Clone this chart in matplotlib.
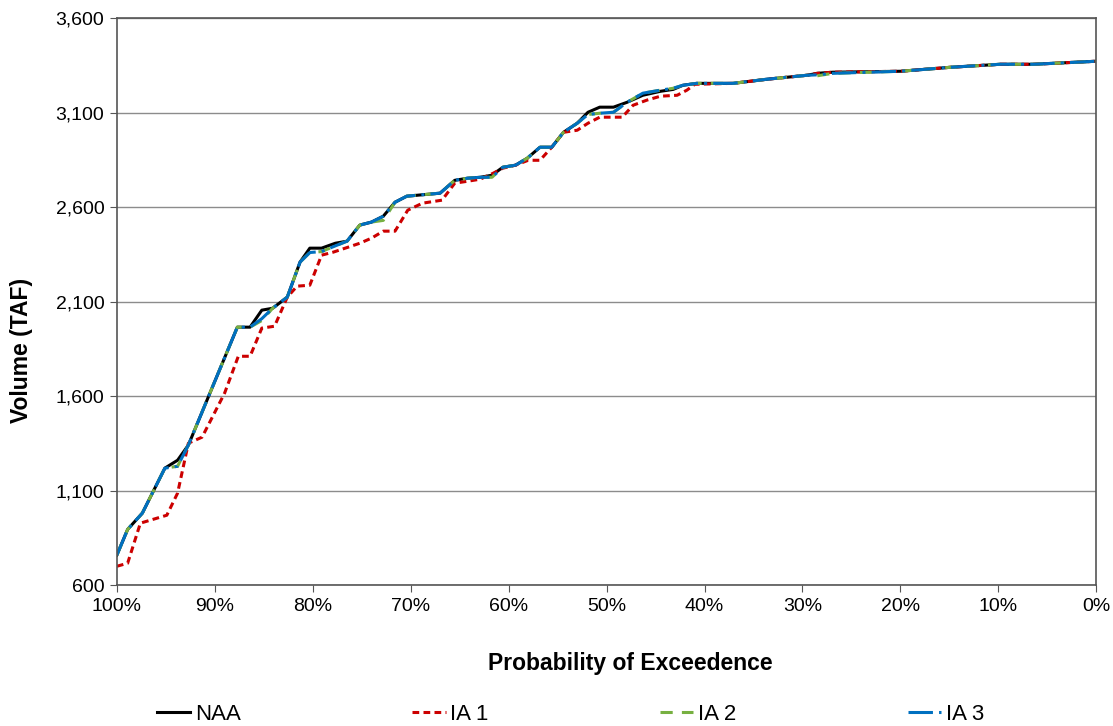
import matplotlib
matplotlib.use("Agg")
import matplotlib.pyplot as plt
from matplotlib.ticker import FuncFormatter

# exceedence probability (%) and volume (TAF)
exceed_pct = [100, 98.9, 97.4, 95.1, 93.8, 92.7, 90.5, 87.7, 86.4, 85.2,
              84.1, 82.6, 81.3, 80.3, 79.1, 77.7, 76.5, 75.2, 74.0, 72.8,
              71.6, 70.4, 67.0, 65.5, 64.2, 62.9, 61.7, 60.6, 59.3, 58.1,
              56.8, 55.6, 54.4, 53.0, 51.9, 50.7, 49.3, 47.9, 46.3, 44.5,
              43.2, 42.2, 40.8, 37.1, 33.6, 29.5, 28.5, 26.9, 20.0, 14.9,
              9.8, 6.4, 0]
naa = [759, 895, 981, 1219, 1261, 1341, 1616, 1965, 1965, 2055,
       2065, 2124, 2309, 2383, 2383, 2409, 2420, 2505, 2521, 2552,
       2626, 2658, 2674, 2742, 2753, 2758, 2769, 2811, 2822, 2859,
       2917, 2917, 2996, 3044, 3102, 3129, 3129, 3155, 3192, 3213,
       3223, 3245, 3255, 3255, 3277, 3298, 3308, 3314, 3319, 3340,
       3356, 3356, 3372]
ia2 = [759, 895, 981, 1219, 1229, 1341, 1616, 1965, 1965, 2000,
       2065, 2124, 2309, 2360, 2365, 2395, 2420, 2505, 2521, 2530,
       2626, 2658, 2674, 2742, 2753, 2758, 2758, 2811, 2822, 2859,
       2917, 2917, 2996, 3044, 3090, 3097, 3102, 3155, 3203, 3219,
       3229, 3245, 3255, 3255, 3277, 3298, 3295, 3308, 3319, 3340,
       3356, 3356, 3372]
ia3 = [759, 895, 981, 1219, 1229, 1341, 1616, 1965, 1965, 2010,
       2065, 2124, 2309, 2360, 2365, 2395, 2420, 2505, 2521, 2552,
       2626, 2658, 2674, 2742, 2753, 2758, 2758, 2811, 2822, 2859,
       2917, 2917, 2996, 3044, 3090, 3097, 3102, 3155, 3203, 3219,
       3229, 3245, 3255, 3255, 3277, 3298, 3300, 3308, 3319, 3340,
       3356, 3356, 3372]

exceed_pct_ia1 = [100, 98.9, 97.6, 94.9, 93.8, 92.7, 91.3, 89.0, 87.6, 86.4,
                  85.2, 83.9, 82.6, 81.6, 80.3, 79.1, 77.9, 76.4, 75.2, 74.0,
                  72.8, 71.6, 70.3, 68.8, 66.8, 65.5, 64.2, 62.9, 61.6, 60.6,
                  59.3, 58.0, 56.8, 55.6, 54.4, 53.0, 51.9, 50.7, 48.4, 47.3,
                  45.9, 44.5, 42.8, 41.8, 41.0, 37.1, 33.6, 29.5, 28.5, 26.9,
                  20.0, 14.9, 9.8, 6.4, 0]
ia1 = [700, 716, 928, 970, 1087, 1351, 1383, 1616, 1811, 1811,
       1960, 1970, 2124, 2182, 2187, 2346, 2362, 2388, 2409, 2436,
       2473, 2473, 2584, 2621, 2637, 2727, 2737, 2748, 2779, 2806,
       2822, 2848, 2848, 2917, 2996, 3007, 3044, 3076, 3076, 3139,
       3166, 3187, 3192, 3219, 3250, 3255, 3277, 3298, 3308, 3314,
       3319, 3340, 3356, 3356, 3372]

x_ticks = [100, 90, 80, 70, 60, 50, 40, 30, 20, 10, 0]
y_ticks = [600, 1100, 1600, 2100, 2600, 3100, 3600]

plt.rcParams['font.family'] = ['Liberation Sans', 'DejaVu Sans']

fig = plt.figure(figsize=(11.13, 7.26), dpi=100)
ax = fig.add_axes([0.105, 0.194, 0.88, 0.781])

ax.plot(exceed_pct, naa, color='black', lw=2.2, label='NAA')
ax.plot(exceed_pct_ia1, ia1, color='#cc0000', lw=2.2, ls=(0, (2.2, 1.4)), label='IA 1')
ax.plot(exceed_pct, ia2, color='#77b041', lw=2.2, ls=(0, (4, 3)), label='IA 2')
ax.plot(exceed_pct, ia3, color='#0070c0', lw=2.2, ls=(0, (8, 2, 1, 2)), label='IA 3')

ax.set_xlim(100, 0)
ax.set_ylim(600, 3600)
ax.set_xticks(x_ticks)
ax.set_yticks(y_ticks)
ax.xaxis.set_major_formatter(FuncFormatter(lambda v, p: f"{int(v)}%"))
ax.yaxis.set_major_formatter(FuncFormatter(lambda v, p: f"{int(v):,}"))
ax.tick_params(labelsize=14, length=5, color='#555555', pad=4)
ax.yaxis.grid(True, color='#8c8c8c', lw=1)
ax.set_axisbelow(True)
for s in ax.spines.values():
    s.set_color('#555555')
    s.set_linewidth(1.2)

ax.set_xlabel('Probability of Exceedence', fontsize=16.5, fontweight='bold')
ax.xaxis.set_label_coords(0.524, -0.118)
ax.set_ylabel('Volume (TAF)', fontsize=16.5, fontweight='bold')
ax.yaxis.set_label_coords(-0.086, 0.414)

fig.legend(loc='center left', bbox_to_anchor=(157 / 1113, 0.0165), ncol=4,
           frameon=False, fontsize=16, handlelength=1.5, handletextpad=0.22,
           columnspacing=7.7, borderpad=0, borderaxespad=0)

fig.savefig('out.png', dpi=100)
